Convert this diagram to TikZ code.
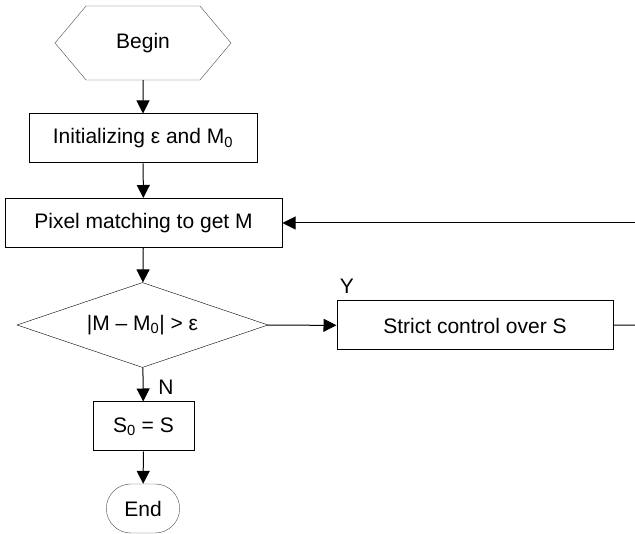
\documentclass[tikz,border=0pt]{standalone}
\usepackage{fontspec}
\setmainfont{Liberation Sans}
\usetikzlibrary{shapes.geometric, shapes.misc, shapes.symbols, arrows.meta}
\tikzstyle{arrow} = [
	line width=1pt,
	-{Triangle[length=13pt,width=13pt]},
	black,
]
\tikzstyle{line} = [line width=1pt, black]
\tikzstyle{inicio} = [
  signal,
  signal to=west and east,
  signal pointer angle=100,
  minimum width=176pt,
  minimum height=74pt,
  text centered,
  draw=black!70
]
\tikzstyle{proceso} = [
  rectangle,
  minimum height=49pt,
  text centered,
  line width=1pt,
  draw=black
]
\tikzstyle{decision} = [
  diamond,
  shape aspect=2.95,
  inner sep=0pt,
  minimum width=251pt,
  minimum height=85pt,
  text centered,
  draw=black
]
\tikzstyle{fin} = [
  rounded rectangle,
  minimum width=80pt,
  minimum height=49pt,
  text centered,
  draw=black!70
]

\begin{document}
\begin{tikzpicture}[x=1pt, y=-1pt, font=\fontsize{21}{24}\selectfont]
    \useasboundingbox (0,0) rectangle (635,534);
    \clip (0,0) rectangle (635,534);
    \node[inicio] (A) at (143,43) {Begin};
    \node[proceso, minimum width=228pt] (B) at (143,138.5) {Initializing ε and M\textsubscript{0}};
    \node[proceso, minimum width=277pt] (C) at (143.5,223) {Pixel matching to get M};
    \node[decision] (D) at (142.5,325) {|M – M\textsubscript{0}| > ε};
    \node[proceso, minimum width=276pt] (E) at (475,325.5) {Strict control over S};
    \node[proceso, minimum width=101pt] (F) at (143.5,426.5) {S\textsubscript{0} = S};
    \node[fin] (G) at (143,508.5) {End};
    \coordinate (R1) at (640,223);
    \coordinate (R2) at (640,325);
    \node (Y) at (347,286) {Y};
    \node (N) at (166,387) {N};

    \draw[arrow] (A) -- (B);
    \draw[arrow] (B) -- (C);
    \draw[arrow] (C) -- (D);
    \draw[arrow] (D) -- (E);
    \draw[arrow] (D) -- (F);
    \draw[arrow] (F) -- (G);
    \draw[line] (E) -- (R2);
    \draw[arrow] (R1) -- (C);
\end{tikzpicture}
\end{document}
